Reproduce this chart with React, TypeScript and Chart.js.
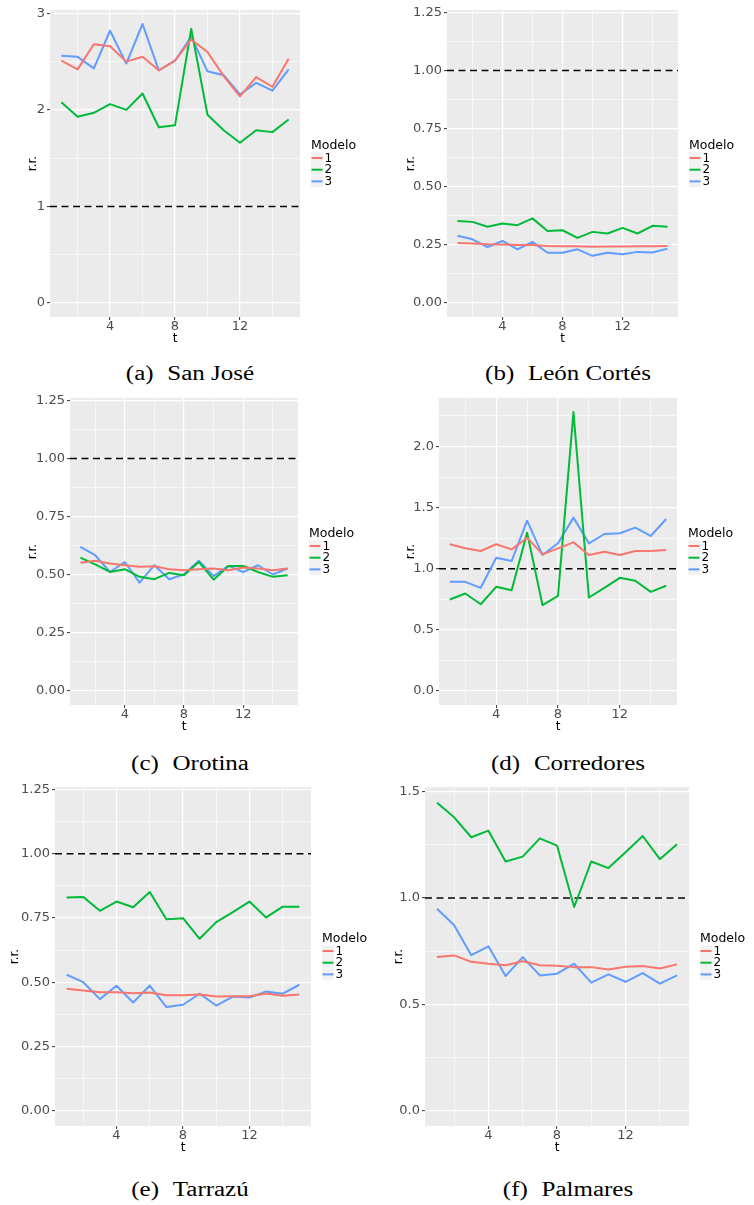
import React, { useEffect, useRef } from 'react';
import { Chart, registerables } from 'chart.js';

Chart.register(...registerables);

// ---------- data ----------
const T = [1, 2, 3, 4, 5, 6, 7, 8, 9, 10, 11, 12, 13, 14, 15];
const X_TICKS = [2, 4, 6, 8, 10, 12, 14];
const X_LABELS = ['', '4', '', '8', '', '12', ''];
const MODEL_NAMES = ['1', '2', '3'];
const LEGEND_TITLE = 'Modelo';
const Y_TITLE = 'r.r.';
const X_TITLE = 't';
const REF_LINE = 1;

// (a) San José
const SANJOSE_M1 = [2.51, 2.42, 2.68, 2.66, 2.5, 2.55, 2.41, 2.51, 2.73, 2.6, 2.35, 2.14, 2.34, 2.24, 2.53];
const SANJOSE_M2 = [2.08, 1.93, 1.97, 2.06, 2.0, 2.17, 1.82, 1.84, 2.84, 1.95, 1.79, 1.66, 1.79, 1.77, 1.9];
const SANJOSE_M3 = [2.56, 2.55, 2.43, 2.82, 2.48, 2.89, 2.41, 2.51, 2.76, 2.4, 2.36, 2.16, 2.28, 2.2, 2.42];
// (b) León Cortés
const LEON_M1 = [0.258, 0.256, 0.253, 0.252, 0.25, 0.25, 0.245, 0.244, 0.244, 0.242, 0.243, 0.243, 0.244, 0.244, 0.245];
const LEON_M2 = [0.353, 0.349, 0.328, 0.342, 0.335, 0.364, 0.31, 0.313, 0.28, 0.306, 0.299, 0.323, 0.299, 0.332, 0.328];
const LEON_M3 = [0.289, 0.274, 0.241, 0.267, 0.231, 0.263, 0.216, 0.216, 0.231, 0.203, 0.216, 0.21, 0.22, 0.217, 0.234];
// (c) Orotina
const OROTINA_M1 = [0.552, 0.56, 0.548, 0.541, 0.534, 0.537, 0.524, 0.519, 0.524, 0.527, 0.519, 0.531, 0.527, 0.519, 0.527];
const OROTINA_M2 = [0.574, 0.545, 0.512, 0.524, 0.491, 0.481, 0.508, 0.498, 0.555, 0.479, 0.538, 0.538, 0.512, 0.491, 0.498];
const OROTINA_M3 = [0.62, 0.584, 0.512, 0.555, 0.466, 0.541, 0.481, 0.502, 0.56, 0.494, 0.538, 0.512, 0.541, 0.501, 0.527];
// (d) Corredores
const CORREDORES_M1 = [1.2, 1.167, 1.145, 1.2, 1.158, 1.254, 1.117, 1.167, 1.216, 1.112, 1.139, 1.112, 1.145, 1.145, 1.153];
const CORREDORES_M2 = [0.749, 0.798, 0.71, 0.852, 0.825, 1.295, 0.702, 0.779, 2.281, 0.765, 0.844, 0.926, 0.902, 0.811, 0.861];
const CORREDORES_M3 = [0.893, 0.893, 0.844, 1.09, 1.063, 1.393, 1.112, 1.208, 1.418, 1.208, 1.284, 1.29, 1.336, 1.268, 1.407];
// (e) Tarrazú
const TARRAZU_M1 = [0.474, 0.468, 0.461, 0.461, 0.457, 0.46, 0.449, 0.449, 0.452, 0.444, 0.445, 0.445, 0.456, 0.447, 0.452];
const TARRAZU_M2 = [0.83, 0.832, 0.778, 0.814, 0.792, 0.851, 0.745, 0.749, 0.669, 0.734, 0.773, 0.814, 0.752, 0.794, 0.794];
const TARRAZU_M3 = [0.529, 0.5, 0.434, 0.486, 0.421, 0.487, 0.403, 0.412, 0.455, 0.409, 0.444, 0.44, 0.464, 0.455, 0.49];
// (f) Palmares
const PALMARES_M1 = [0.723, 0.73, 0.7, 0.691, 0.684, 0.703, 0.684, 0.681, 0.675, 0.675, 0.664, 0.677, 0.68, 0.669, 0.688];
const PALMARES_M2 = [1.448, 1.38, 1.286, 1.317, 1.172, 1.195, 1.281, 1.247, 0.958, 1.172, 1.141, 1.216, 1.292, 1.183, 1.253];
const PALMARES_M3 = [0.95, 0.872, 0.731, 0.773, 0.633, 0.722, 0.636, 0.644, 0.691, 0.602, 0.641, 0.606, 0.647, 0.597, 0.636];

// y ticks (majors labelled, minors blank)
const Y_TICKS_A = [0, 0.5, 1, 1.5, 2, 2.5, 3];
const Y_LABELS_A = ['0', '', '1', '', '2', '', '3'];
const Y_TICKS_Q = [0, 0.125, 0.25, 0.375, 0.5, 0.625, 0.75, 0.875, 1, 1.125, 1.25];
const Y_LABELS_Q = ['0.00', '', '0.25', '', '0.50', '', '0.75', '', '1.00', '', '1.25'];
const Y_TICKS_D = [0, 0.25, 0.5, 0.75, 1, 1.25, 1.5, 1.75, 2, 2.25];
const Y_LABELS_D = ['0.0', '', '0.5', '', '1.0', '', '1.5', '', '2.0', ''];
const Y_TICKS_F = [0, 0.25, 0.5, 0.75, 1, 1.25, 1.5];
const Y_LABELS_F = ['0.0', '', '0.5', '', '1.0', '', '1.5'];

// ---------- styles ----------
const MODEL_COLORS = ['#F8766D', '#00BA38', '#619CFF'];
const PANEL_BG = '#EBEBEB';
const TICK_COLOR = '#4D4D4D';
const SANS = '"DejaVu Sans", sans-serif';
const TICK_SIZE = 13;
const X_MIN = 0.3;
const X_MAX = 15.7;

const PANELS = [
  { caption: '(a)', name: 'San José', series: [SANJOSE_M1, SANJOSE_M2, SANJOSE_M3], yTicks: Y_TICKS_A, yLabels: Y_LABELS_A, yMin: -0.145, yMax: 3.035,
    left: 0, top: 0, width: 377, height: 347, padTop: 10, padRight: 77, yAxisW: 50, xAxisH: 30, yTitlePad: 26.5, capX: 190, capY: 373 },
  { caption: '(b)', name: 'León Cortés', series: [LEON_M1, LEON_M2, LEON_M3], yTicks: Y_TICKS_Q, yLabels: Y_LABELS_Q, yMin: -0.06, yMax: 1.26,
    left: 377, top: 0, width: 377, height: 347, padTop: 10, padRight: 76, yAxisW: 70, xAxisH: 30, yTitlePad: 27.5, capX: 568, capY: 373 },
  { caption: '(c)', name: 'Orotina', series: [OROTINA_M1, OROTINA_M2, OROTINA_M3], yTicks: Y_TICKS_Q, yLabels: Y_LABELS_Q, yMin: -0.06, yMax: 1.26,
    left: 0, top: 388, width: 377, height: 347, padTop: 10, padRight: 79, yAxisW: 70, xAxisH: 30, yTitlePad: 26.5, capX: 190, capY: 763 },
  { caption: '(d)', name: 'Corredores', series: [CORREDORES_M1, CORREDORES_M2, CORREDORES_M3], yTicks: Y_TICKS_D, yLabels: Y_LABELS_D, yMin: -0.114, yMax: 2.396,
    left: 377, top: 388, width: 377, height: 347, padTop: 10, padRight: 77, yAxisW: 62, xAxisH: 30, yTitlePad: 27.5, capX: 568, capY: 763 },
  { caption: '(e)', name: 'Tarrazú', series: [TARRAZU_M1, TARRAZU_M2, TARRAZU_M3], yTicks: Y_TICKS_Q, yLabels: Y_LABELS_Q, yMin: -0.06, yMax: 1.26,
    left: 0, top: 777, width: 377, height: 379, padTop: 10, padRight: 66, yAxisW: 55, xAxisH: 30, yTitlePad: 8.5, capX: 190, capY: 1189 },
  { caption: '(f)', name: 'Palmares', series: [PALMARES_M1, PALMARES_M2, PALMARES_M3], yTicks: Y_TICKS_F, yLabels: Y_LABELS_F, yMin: -0.0725, yMax: 1.5225,
    left: 377, top: 777, width: 377, height: 379, padTop: 10, padRight: 65, yAxisW: 48, xAxisH: 30, yTitlePad: 15.5, capX: 568, capY: 1189 },
];

const bgPlugin = {
  id: 'ggBackground',
  beforeDraw(chart: any) {
    const { ctx, chartArea } = chart;
    ctx.save();
    ctx.fillStyle = PANEL_BG;
    ctx.fillRect(chartArea.left, chartArea.top, chartArea.right - chartArea.left, chartArea.bottom - chartArea.top);
    ctx.restore();
  },
};

const refLinePlugin = {
  id: 'refLine',
  beforeDatasetsDraw(chart: any) {
    const { ctx, chartArea, scales } = chart;
    const y = scales.y.getPixelForValue(REF_LINE);
    ctx.save();
    ctx.strokeStyle = '#000000';
    ctx.lineWidth = 1.6;
    ctx.setLineDash([7, 4.5]);
    ctx.beginPath();
    ctx.moveTo(chartArea.left, y);
    ctx.lineTo(chartArea.right, y);
    ctx.stroke();
    ctx.restore();
  },
};

const legendPlugin = {
  id: 'ggLegend',
  afterDraw(chart: any) {
    const { ctx, chartArea } = chart;
    const x0 = chartArea.right + 11;
    const cy = (chartArea.top + chartArea.bottom) / 2;
    ctx.save();
    ctx.textBaseline = 'middle';
    ctx.textAlign = 'left';
    ctx.fillStyle = '#000000';
    ctx.font = `12.5px ${SANS}`;
    ctx.fillText(LEGEND_TITLE, x0, cy - 18);
    chart.data.datasets.forEach((ds: any, i: number) => {
      const y = cy - 5.5 + i * 11.7;
      ctx.fillStyle = '#F2F2F2';
      ctx.fillRect(x0, y - 5.8, 12, 11.6);
      ctx.strokeStyle = ds.borderColor;
      ctx.lineWidth = 2;
      ctx.beginPath();
      ctx.moveTo(x0 + 0.5, y);
      ctx.lineTo(x0 + 11.5, y);
      ctx.stroke();
      ctx.fillStyle = '#000000';
      ctx.font = `12px ${SANS}`;
      ctx.fillText(ds.label, x0 + 13.5, y + 0.5);
    });
    ctx.restore();
  },
};

function Panel({ p }: { p: any }) {
  const ref = useRef<HTMLCanvasElement>(null);
  useEffect(() => {
    const canvas = ref.current!;
    const isMajorX = (i: number) => X_LABELS[i] !== '';
    const isMajorY = (i: number) => p.yLabels[i] !== '';
    const chart = new Chart(canvas, {
      type: 'line',
      data: {
        datasets: p.series.map((vals: number[], i: number) => ({
          label: MODEL_NAMES[i],
          data: T.map((t, j) => ({ x: t, y: vals[j] })),
          borderColor: MODEL_COLORS[i],
          backgroundColor: MODEL_COLORS[i],
          borderWidth: 2,
          pointRadius: 0,
          tension: 0,
          borderJoinStyle: 'round',
          fill: false,
        })),
      },
      options: {
        responsive: false,
        animation: false,
        events: [],
        layout: { padding: { top: p.padTop, right: p.padRight, left: 0, bottom: 0 } },
        plugins: { legend: { display: false }, tooltip: { enabled: false } },
        scales: {
          x: {
            type: 'linear',
            min: X_MIN,
            max: X_MAX,
            afterBuildTicks: (s: any) => { s.ticks = X_TICKS.map((v) => ({ value: v })); },
            afterFit: (s: any) => { s.height = p.xAxisH; },
            ticks: {
              autoSkip: false, maxRotation: 0, minRotation: 0, padding: 0,
              color: TICK_COLOR,
              font: { family: SANS, size: TICK_SIZE, lineHeight: 1 },
              callback: (_v: any, i: number) => X_LABELS[i],
            },
            grid: {
              color: '#FFFFFF',
              lineWidth: (c: any) => (isMajorX(c.index) ? 1.2 : 0.6),
              drawTicks: true,
              tickLength: 3,
              tickWidth: 1,
              tickColor: (c: any) => (isMajorX(c.index) ? '#333333' : 'rgba(0,0,0,0)'),
            },
            border: { display: false },
            title: { display: true, text: X_TITLE, color: '#000000', font: { family: SANS, size: 12, lineHeight: 1 }, padding: { top: 0, bottom: 2.5 } },
          },
          y: {
            type: 'linear',
            min: p.yMin,
            max: p.yMax,
            afterBuildTicks: (s: any) => { s.ticks = p.yTicks.map((v: number) => ({ value: v })); },
            afterFit: (s: any) => { s.width = p.yAxisW; },
            ticks: {
              autoSkip: false, padding: 2,
              color: TICK_COLOR,
              font: { family: SANS, size: TICK_SIZE, lineHeight: 1 },
              callback: (_v: any, i: number) => p.yLabels[i],
            },
            grid: {
              color: '#FFFFFF',
              lineWidth: (c: any) => (isMajorY(c.index) ? 1.2 : 0.6),
              drawTicks: true,
              tickLength: 3,
              tickWidth: 1,
              tickColor: (c: any) => (isMajorY(c.index) ? '#333333' : 'rgba(0,0,0,0)'),
            },
            border: { display: false },
            title: { display: true, text: Y_TITLE, color: '#000000', font: { family: SANS, size: 12, lineHeight: 1 }, padding: { top: p.yTitlePad, bottom: 0 } },
          },
        },
      } as any,
      plugins: [bgPlugin, refLinePlugin, legendPlugin],
    });
    return () => chart.destroy();
  }, [p]);
  return (
    <canvas
      ref={ref}
      width={p.width}
      height={p.height}
      style={{ position: 'absolute', left: p.left, top: p.top, width: p.width, height: p.height }}
    />
  );
}

function Caption({ p }: { p: any }) {
  return (
    <div
      style={{
        position: 'absolute',
        left: p.capX - 200,
        top: p.capY - 12,
        width: 400,
        height: 24,
        lineHeight: '24px',
        textAlign: 'center',
        fontFamily: '"Liberation Serif", serif',
        fontSize: 20,
        color: '#000',
        whiteSpace: 'nowrap',
        transform: 'scaleX(1.25)',
        transformOrigin: 'center',
      }}
    >
      <span>{p.caption}</span>
      <span style={{ marginLeft: 11 }}>{p.name}</span>
    </div>
  );
}

export default function App() {
  return (
    <div style={{ position: 'absolute', left: 0, top: 0, width: 754, height: 1205, background: '#FFFFFF', overflow: 'hidden' }}>
      {PANELS.map((p, i) => (
        <React.Fragment key={i}>
          <Panel p={p} />
          <Caption p={p} />
        </React.Fragment>
      ))}
    </div>
  );
}
